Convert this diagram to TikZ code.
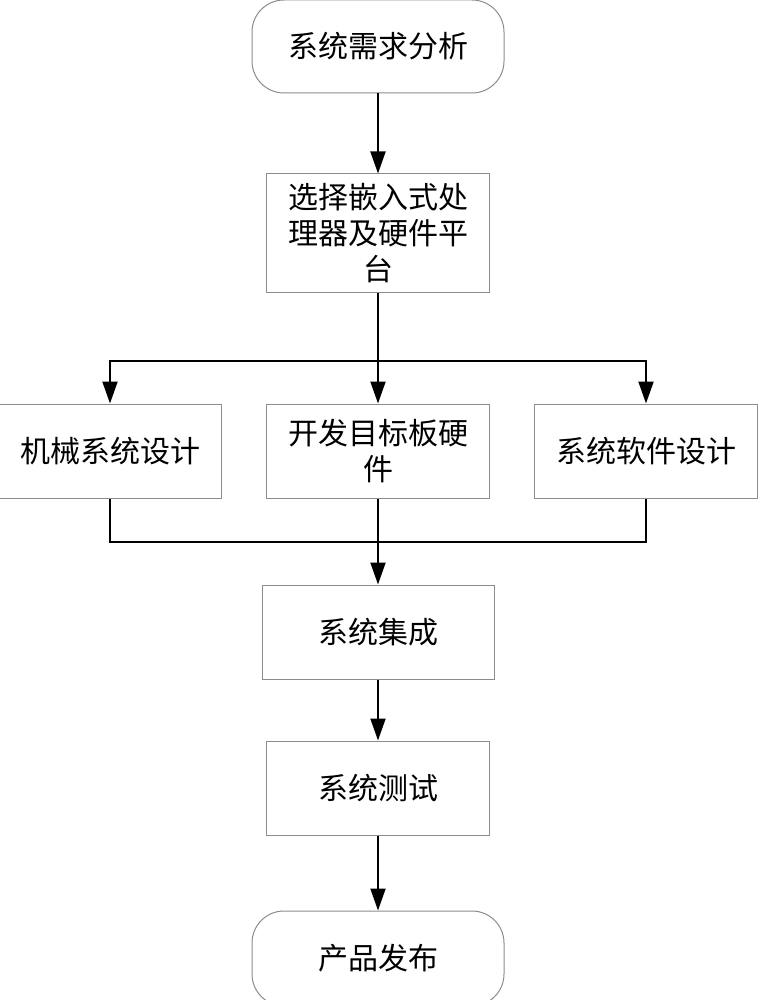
\documentclass[tikz,border=0pt]{standalone}
\usepackage{fontspec}
\newfontfamily\cjk{Noto Sans CJK SC}
\usepackage{tikz}
\usetikzlibrary{arrows.meta, positioning}

\begin{document}
\begin{tikzpicture}[
  x=0.5pt, y=0.5pt,
  node distance=40pt and 22pt,
  flowbox/.style={rectangle, draw=black!45, line width=0.5pt, inner sep=0pt,
               minimum width=111.5pt, minimum height=47pt, align=center,
               font=\cjk\fontsize{15}{18}\selectfont},
  flowterm/.style={flowbox, rounded corners=16pt, minimum width=126pt},
  arrow/.style={-{Triangle[length=11pt, width=7.5pt]}, line width=1pt, black},
  link/.style={line width=1pt, black}
]
\useasboundingbox (0,0) rectangle (758,-1000);
\node[flowterm, minimum height=46.5pt] (req) at (378,-46.5) {系统需求分析};
\node[flowbox, below=of req, minimum height=59pt] (plat) {选择嵌入式处\\理器及硬件平\\台};
\node[flowbox, below=55.5pt of plat] (hw) {开发目标板硬\\件};
\node[flowbox, left=of hw] (mech) {机械系统设计};
\node[flowbox, right=of hw] (soft) {系统软件设计};
\node[flowbox, below=43pt of hw, minimum width=116pt] (integ) {系统集成};
\node[flowbox, below=30.5pt of integ] (test) {系统测试};
\node[flowterm, below=37.5pt of test, minimum height=47.5pt] (pub) {产品发布};
\coordinate (split) at ([yshift=-34pt]plat.south);
\coordinate (join) at ([yshift=-21.5pt]hw.south);
\draw[arrow] (req) -- (plat);
\draw[arrow] (plat) -- (hw);
\draw[arrow] (split) -| (mech);
\draw[arrow] (split) -| (soft);
\draw[link] (mech) |- (join) -| (soft);
\draw[arrow] (hw) -- (integ);
\draw[arrow] (integ) -- (test);
\draw[arrow] (test) -- (pub);
\end{tikzpicture}
\end{document}
